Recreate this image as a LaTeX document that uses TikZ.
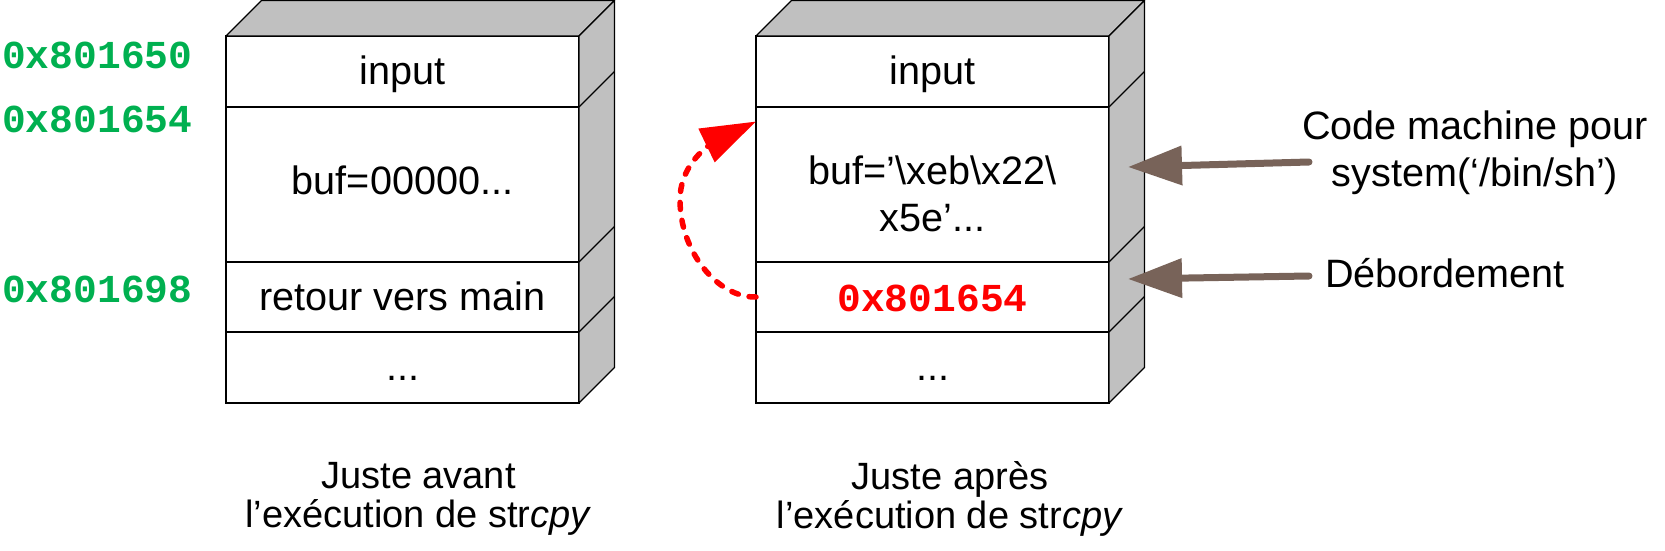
\documentclass[tikz,border=0pt]{standalone}
\usepackage{fontspec}
\setmainfont{Liberation Sans}
\newfontfamily\codefont{Liberation Mono}
\usetikzlibrary{arrows.meta,calc,bending}
\definecolor{sidegray}{RGB}{192,192,192}
\definecolor{addrgreen}{RGB}{0,176,80}
\definecolor{arrowbrown}{RGB}{120,99,89}
\begin{document}
\begin{tikzpicture}[x=1pt,y=-1pt,
  every node/.style={font=\fontsize{39.6}{47}\selectfont, inner sep=0pt},
  cellbox/.style={draw=black, line width=1.3pt, fill=white, rectangle, outer sep=0pt, minimum width=353pt, minimum height=#1},
  oneline/.style={text height=28.5pt, text depth=2.5pt},
  face/.style={fill=sidegray, draw=black, line width=1.3pt, line join=round},
  edge/.style={draw=black, line width=1.3pt},
  addr/.style={font=\codefont\bfseries\fontsize{39.6}{47}\selectfont},
  caption/.style={align=center, font=\fontsize{38}{39}\selectfont},
  overflow/.style={red, line width=5.5pt, line cap=round, dash pattern=on 7pt off 11pt, -{Triangle[length=55pt,width=36pt,flex]}},
  pointer/.style={arrowbrown, line width=7pt, line cap=round, -{Triangle[length=54pt,width=38pt]}}
]
\useasboundingbox (0,0) rectangle (1665,551);

% ---------- left stack ----------
\node[cellbox=71pt, oneline] (L1) at (402.5,71.5) {input};
\node[cellbox=155pt, oneline, text depth=8.3pt] (L2) at (402.5,184.5) {buf=00000...};
\node[cellbox=70pt, oneline] (L3) at (402.5,297) {retour vers main};
\node[cellbox=71pt, oneline] (L4) at (402.5,367.5) {...};
\path[face] (L1.north west) -- ($(L1.north west)+(35.5,-35.5)$) -- ($(L1.north east)+(35.5,-35.5)$) -- (L1.north east) -- cycle;
\path[face] (L1.north east) -- ($(L1.north east)+(35.5,-35.5)$) -- ($(L4.south east)+(35.5,-35.5)$) -- (L4.south east) -- cycle;
\draw[edge] (L1.south east) -- ++(35.5,-35.5);
\draw[edge] (L2.south east) -- ++(35.5,-35.5);
\draw[edge] (L3.south east) -- ++(35.5,-35.5);

% ---------- right stack ----------
\node[cellbox=71pt, oneline] (R1) at (932.5,71.5) {input};
\node[cellbox=155pt, align=center] (R2) at (932.5,184.5) {\rule{0pt}{47pt}buf=’\textbackslash xeb\textbackslash x22\textbackslash\\x5e’...};
\node[cellbox=70pt, oneline, text depth=0pt, addr, text=red] (R3) at (932.5,297) {0x801654};
\node[cellbox=71pt, oneline] (R4) at (932.5,367.5) {...};
\path[face] (R1.north west) -- ($(R1.north west)+(35.5,-35.5)$) -- ($(R1.north east)+(35.5,-35.5)$) -- (R1.north east) -- cycle;
\path[face] (R1.north east) -- ($(R1.north east)+(35.5,-35.5)$) -- ($(R4.south east)+(35.5,-35.5)$) -- (R4.south east) -- cycle;
\draw[edge] (R1.south east) -- ++(35.5,-35.5);
\draw[edge] (R2.south east) -- ++(35.5,-35.5);
\draw[edge] (R3.south east) -- ++(35.5,-35.5);

% ---------- addresses ----------
\node[addr, text=addrgreen, anchor=base west] (a1) at (2,69) {0x801650};
\node[addr, text=addrgreen, anchor=base west] (a2) at (2,132) {0x801654};
\node[addr, text=addrgreen, anchor=base west] (a3) at (2,302) {0x801698};

% ---------- overflow arrow ----------
\coordinate (tipR) at ($(R2.north west)+(0,14.5)$);
\coordinate (bendR) at (680,200);
\draw[overflow] (R3.west) .. controls (718,298) and (680,252) .. (bendR)
                          .. controls (680,170) and (700,140) .. (tipR);

% ---------- right labels ----------
\node[align=center] (code) at (1475,153) {Code machine pour\\system(‘/bin/sh’)};
\node[anchor=base] (deb) at (1445,287) {Débordement};
\coordinate (codeTail) at (1309,162);
\coordinate (codeTip) at (1128,167);
\coordinate (debTail) at (1309,276);
\coordinate (debTip) at (1128,279);
\draw[pointer] (codeTail) -- (codeTip);
\draw[pointer] (debTail) -- (debTip);

% ---------- captions ----------
\node[caption] (capL) at (418.5,499) {Juste avant\\l’exécution de str\textit{cpy}};
\node[caption] (capR) at (950,499) {Juste après\\l’exécution de str\textit{cpy}};
\end{tikzpicture}
\end{document}
